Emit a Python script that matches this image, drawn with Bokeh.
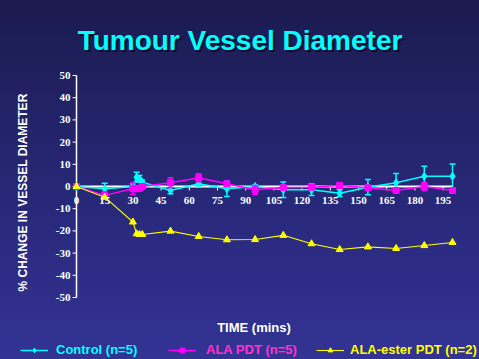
import math
from bokeh.plotting import figure
from bokeh.models import (Range1d, Label, LabelSet, ColumnDataSource, Legend, LegendItem)
from bokeh.embed import file_html
from bokeh.resources import INLINE

# ---------------- data ----------------
time = [0, 15, 30, 32, 33.5, 35, 50, 65, 80, 95, 110, 125, 140, 155, 170, 185, 200]
control = [0, -1, 0, 4.2, 3.5, 1.9, -1.8, 1.2, -1, 0, -1.5, -1.5, -3, -0.3, 1.7, 4.6, 4.6]
control_err = [0, 2.5, 1.2, 2.2, 1.5, 1, 1.5, 1.5, 3.5, 0.8, 3.5, 2.6, 1.5, 3.4, 4.2, 4.5, 5.5]
ala_pdt = [0, -4, -1, -1, -0.8, 0, 1.7, 3.9, 1.2, -1.5, -0.5, -0.3, 0.5, -0.6, -1.8, 0, -1.8]
ala_pdt_err = [0, 1.5, 2.6, 1, 0.8, 0.5, 2.2, 1.8, 1, 2, 0.5, 1, 1, 0.5, 1, 1.8, 1]
ala_ester = [0, -4.8, -16, -21.3, -21.6, -21.6, -20.1, -22.5, -24, -23.9, -22, -25.8,
             -28.4, -27.2, -27.9, -26.6, -25.2]

x_ticks = [0, 15, 30, 45, 60, 75, 90, 105, 120, 135, 150, 165, 180, 195]
x_tick_labels = ["0", "15", "30", "45", "60", "75", "90", "105", "120", "135", "150",
                 "165", "180", "195"]
y_ticks = [-50, -40, -30, -20, -10, 0, 10, 20, 30, 40, 50]
y_tick_labels = ["-50", "-40", "-30", "-20", "-10", "0", "10", "20", "30", "40", "50"]
X_MIN, X_MAX = 0, 200
Y_MIN, Y_MAX = -50, 50

series_names = ["Control (n=5)", "ALA PDT (n=5)", "ALA-ester PDT (n=2)"]

# ---------------- layout / styles ----------------
W, H = 479, 359
X0_PX, Y0_PX = 76, 186      # pixel position of the origin
XPX, YPX = 1.88, 2.22       # pixels per data unit
CYAN = "#00ffff"
MAGENTA = "#ff00ff"
MAGENTA_TEXT = "#ff33cc"
YELLOW = "#ffff00"
FONT = "Liberation Sans"

p = figure(width=W, height=H,
           x_range=Range1d(-X0_PX / XPX, (W - X0_PX) / XPX),
           y_range=Range1d(-(H - Y0_PX) / YPX, Y0_PX / YPX),
           x_axis_type=None, y_axis_type=None, toolbar_location=None,
           output_backend="svg", min_border=0)
p.background_fill_alpha = 0
p.border_fill_alpha = 0
p.outline_line_color = None
p.styles = {"background": "linear-gradient(180deg, #1b1b4f 0%, #2a2a80 65%, #333394 100%)"}
p.xgrid.visible = False
p.ygrid.visible = False

# axes drawn so that they cross at the origin
p.segment(x0=[X_MIN], y0=[Y_MIN], x1=[X_MIN], y1=[Y_MAX], line_color="white", line_width=1.5)
p.segment(x0=[X_MIN], y0=[0], x1=[X_MAX], y1=[0], line_color="white", line_width=2)
p.segment(x0=[X_MIN - 2.1] * len(y_ticks), y0=y_ticks, x1=[X_MIN] * len(y_ticks), y1=y_ticks,
          line_color="white", line_width=1)
p.segment(x0=x_ticks, y0=[0] * len(x_ticks), x1=x_ticks, y1=[-1.8] * len(x_ticks),
          line_color="white", line_width=1)

xt_src = ColumnDataSource(dict(x=x_ticks, y=[0] * len(x_ticks), t=x_tick_labels))
p.add_layout(LabelSet(x="x", y="y", text="t", source=xt_src, y_offset=-10,
                      text_align="center", text_baseline="top", text_color="white",
                      text_font=FONT, text_font_style="bold", text_font_size="11px"))
yt_src = ColumnDataSource(dict(x=[X_MIN] * len(y_ticks), y=y_ticks, t=y_tick_labels))
p.add_layout(LabelSet(x="x", y="y", text="t", source=yt_src, x_offset=-6,
                      text_align="right", text_baseline="middle", text_color="white",
                      text_font=FONT, text_font_style="bold", text_font_size="11px"))


def err_bars(vals, errs, color):
    up = [v + e for v, e in zip(vals, errs)]
    lo = [v - e for v, e in zip(vals, errs)]
    p.segment(x0=time, y0=lo, x1=time, y1=up, line_color=color, line_width=1.5)
    p.scatter(time, up, marker="dash", size=6, line_color=color, line_width=1.5)
    p.scatter(time, lo, marker="dash", size=6, line_color=color, line_width=1.5)


# Control
c_line = p.line(time, control, line_color=CYAN, line_width=1.5)
err_bars(control, control_err, CYAN)
c_mark = p.scatter(time, control, marker="diamond", size=8, fill_color=CYAN, line_color=CYAN)

# ALA PDT
a_line = p.line(time, ala_pdt, line_color=MAGENTA, line_width=1.5)
err_bars(ala_pdt, ala_pdt_err, MAGENTA)
a_mark = p.scatter(time, ala_pdt, marker="square", size=6, fill_color=MAGENTA, line_color=MAGENTA)

# ALA-ester PDT
e_line = p.line(time, ala_ester, line_color=YELLOW, line_width=1.1)
e_mark = p.scatter(time, ala_ester, marker="triangle", size=7, fill_color=YELLOW, line_color=YELLOW)

# legends (one per series so each label has its own colour)
for name, rends, col, xloc, stand in [
        (series_names[0], [c_line, c_mark], CYAN, 20, 8),
        (series_names[1], [a_line, a_mark], MAGENTA_TEXT, 168, 10),
        (series_names[2], [e_line, e_mark], YELLOW, 316, 6)]:
    lg = Legend(items=[LegendItem(label=name, renderers=rends)], location=(xloc, 2),
                orientation="horizontal", label_text_color=col, label_text_font=FONT,
                label_text_font_style="bold", label_text_font_size="13px",
                border_line_color=None, background_fill_alpha=0, padding=0, margin=0,
                glyph_width=28, glyph_height=12, label_height=12, label_standoff=stand,
                spacing=0)
    p.add_layout(lg)

# title with shadow
p.add_layout(Label(x=241.5, y=H - 42, x_units="screen", y_units="screen",
                   text="Tumour Vessel Diameter", text_align="center", text_baseline="alphabetic",
                   text_color="#0d0d2b", text_font=FONT, text_font_style="bold",
                   text_font_size="28px"))
p.add_layout(Label(x=239.5, y=H - 40, x_units="screen", y_units="screen",
                   text="Tumour Vessel Diameter", text_align="center", text_baseline="alphabetic",
                   text_color=CYAN, text_font=FONT, text_font_style="bold",
                   text_font_size="28px"))

# axis titles
p.add_layout(Label(x=22, y=H - 192, x_units="screen", y_units="screen", angle=math.pi / 2,
                   text="% CHANGE IN VESSEL DIAMETER", text_align="center",
                   text_baseline="middle", text_color="white", text_font=FONT,
                   text_font_style="bold", text_font_size="12px"))
p.add_layout(Label(x=253.5, y=H - 327, x_units="screen", y_units="screen",
                   text="TIME (mins)", text_align="center", text_baseline="middle",
                   text_color="white", text_font=FONT, text_font_style="bold",
                   text_font_size="13px"))

open("out.html", "w").write(file_html(p, INLINE))
